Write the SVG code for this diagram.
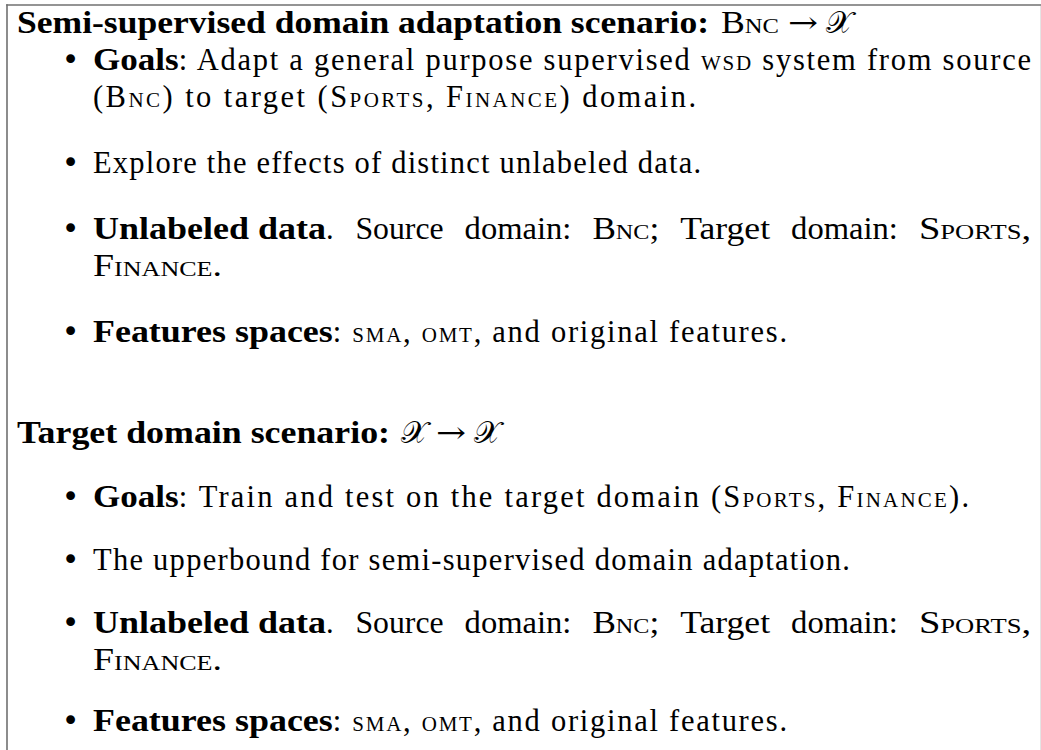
<svg xmlns="http://www.w3.org/2000/svg" width="1041" height="750" viewBox="0 0 1041 750">
  <style>
    text { font-family: "Liberation Serif", "Times New Roman", serif; font-size: 30.5px; fill: #000; }
    .b { font-weight: bold; }
    .sc { font-variant: small-caps; }
    .math { font-family: "DejaVu Serif", "Liberation Serif", serif; }
    .cal { font-family: "DejaVu Sans", "Noto Sans", "Liberation Serif", serif; font-style: normal; }
    .dot { font-family: "DejaVu Sans", sans-serif; font-size: 30px; text-anchor: middle; }
    .frame { stroke: #707070; stroke-width: 1.6; fill: none; }
  </style>

  <!-- open frame: top and left rules, faint right edge -->
  <g id="frame">
    <line class="frame" x1="6.2" y1="5" x2="1041" y2="5"/>
    <line class="frame" x1="7" y1="4.2" x2="7" y2="750"/>
    <line x1="1040.5" y1="6" x2="1040.5" y2="750" stroke="#e4e4e4" stroke-width="1"/>
  </g>

  <!-- first scenario -->
  <g id="semi-supervised">
    <text class="b" x="17" y="33" textLength="692" lengthAdjust="spacingAndGlyphs">Semi-supervised domain adaptation scenario:</text>
    <text class="sc" x="721" y="33" textLength="58" lengthAdjust="spacingAndGlyphs">Bnc</text>
    <text class="math" x="788" y="33" textLength="30" lengthAdjust="spacingAndGlyphs">→</text>
    <text class="cal" x="826" y="33">𝒳</text>

    <text class="dot" x="70.5" y="70">•</text>
    <text class="b" x="93" y="70" textLength="85.7" lengthAdjust="spacingAndGlyphs">Goals</text>
    <text x="178.7" y="70" textLength="852.3" lengthAdjust="spacing">: Adapt a general purpose supervised <tspan class="sc">wsd</tspan> system from source</text>
    <text x="93" y="107" textLength="603" lengthAdjust="spacing">(<tspan class="sc">Bnc</tspan>) to target (<tspan class="sc">Sports</tspan>, <tspan class="sc">Finance</tspan>) domain.</text>

    <text class="dot" x="70.5" y="173">•</text>
    <text x="93" y="173" textLength="608" lengthAdjust="spacing">Explore the effects of distinct unlabeled data.</text>

    <text class="dot" x="70.5" y="239">•</text>
    <text class="b" x="93" y="239" textLength="232.9" lengthAdjust="spacingAndGlyphs">Unlabeled data</text>
    <text x="325.9" y="239">.</text>
    <text x="355.4" y="239" textLength="88.2" lengthAdjust="spacingAndGlyphs">Source</text>
    <text x="464.6" y="239" textLength="106.8" lengthAdjust="spacingAndGlyphs">domain:</text>
    <text x="592.4" y="239" textLength="66.8" lengthAdjust="spacingAndGlyphs"><tspan class="sc">Bnc</tspan>;</text>
    <text x="680.2" y="239" textLength="89.9" lengthAdjust="spacingAndGlyphs">Target</text>
    <text x="791.1" y="239" textLength="106.8" lengthAdjust="spacingAndGlyphs">domain:</text>
    <text x="918.9" y="239" textLength="112.2" lengthAdjust="spacingAndGlyphs"><tspan class="sc">Sports</tspan>,</text>
    <text class="sc" x="93" y="276" textLength="129" lengthAdjust="spacingAndGlyphs">Finance.</text>

    <text class="dot" x="70.5" y="342">•</text>
    <text class="b" x="93" y="342" textLength="239.8" lengthAdjust="spacingAndGlyphs">Features spaces</text>
    <text x="332.8" y="342" textLength="454.2" lengthAdjust="spacing">: <tspan class="sc">sma</tspan>, <tspan class="sc">omt</tspan>, and original features.</text>
  </g>

  <!-- second scenario -->
  <g id="target-domain">
    <text class="b" x="17" y="443" textLength="373" lengthAdjust="spacingAndGlyphs">Target domain scenario:</text>
    <text class="cal" x="401" y="443">𝒳</text>
    <text class="math" x="436" y="443" textLength="30" lengthAdjust="spacingAndGlyphs">→</text>
    <text class="cal" x="474" y="443">𝒳</text>

    <text class="dot" x="70.5" y="507">•</text>
    <text class="b" x="93" y="507" textLength="85.7" lengthAdjust="spacingAndGlyphs">Goals</text>
    <text x="178.7" y="507" textLength="790.3" lengthAdjust="spacing">: Train and test on the target domain (<tspan class="sc">Sports</tspan>, <tspan class="sc">Finance</tspan>).</text>

    <text class="dot" x="70.5" y="570">•</text>
    <text x="93" y="570" textLength="757" lengthAdjust="spacing">The upperbound for semi-supervised domain adaptation.</text>

    <text class="dot" x="70.5" y="633">•</text>
    <text class="b" x="93" y="633" textLength="232.9" lengthAdjust="spacingAndGlyphs">Unlabeled data</text>
    <text x="325.9" y="633">.</text>
    <text x="355.4" y="633" textLength="88.2" lengthAdjust="spacingAndGlyphs">Source</text>
    <text x="464.6" y="633" textLength="106.8" lengthAdjust="spacingAndGlyphs">domain:</text>
    <text x="592.4" y="633" textLength="66.8" lengthAdjust="spacingAndGlyphs"><tspan class="sc">Bnc</tspan>;</text>
    <text x="680.2" y="633" textLength="89.9" lengthAdjust="spacingAndGlyphs">Target</text>
    <text x="791.1" y="633" textLength="106.8" lengthAdjust="spacingAndGlyphs">domain:</text>
    <text x="918.9" y="633" textLength="112.2" lengthAdjust="spacingAndGlyphs"><tspan class="sc">Sports</tspan>,</text>
    <text class="sc" x="93" y="670" textLength="129" lengthAdjust="spacingAndGlyphs">Finance.</text>

    <text class="dot" x="70.5" y="731">•</text>
    <text class="b" x="93" y="731" textLength="239.8" lengthAdjust="spacingAndGlyphs">Features spaces</text>
    <text x="332.8" y="731" textLength="454.2" lengthAdjust="spacing">: <tspan class="sc">sma</tspan>, <tspan class="sc">omt</tspan>, and original features.</text>
  </g>
</svg>
